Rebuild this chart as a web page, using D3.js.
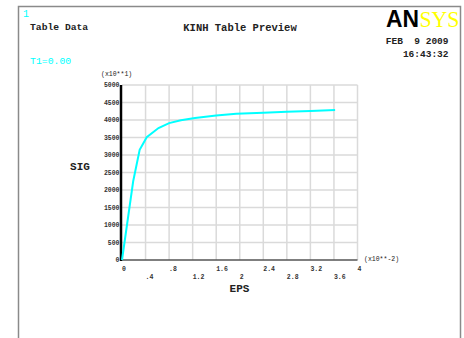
<!DOCTYPE html>
<html>
<head>
<meta charset="utf-8">
<script src="https://cdn.jsdelivr.net/npm/d3@7"></script>
<style>
  body { margin: 0; background: #fff; }
  text { white-space: pre; }
</style>
</head>
<body>
<div class="result"></div>
<script>
// Table values (x10**-2 for EPS, x10**1 for SIG)
const epsData = [0, 0.19, 0.30, 0.42, 0.62, 0.80, 1.00, 1.24, 1.60, 1.94, 2.40, 2.80, 3.20, 3.62];
const sigData = [0, 2250, 3150, 3510, 3770, 3910, 3990, 4060, 4130, 4180, 4210, 4235, 4255, 4285];
const xTicks = [0, 0.4, 0.8, 1.2, 1.6, 2, 2.4, 2.8, 3.2, 3.6, 4];
const xTickLabels = ['0', '.4', '.8', '1.2', '1.6', '2', '2.4', '2.8', '3.2', '3.6', '4'];
const yTicks = [0, 500, 1000, 1500, 2000, 2500, 3000, 3500, 4000, 4500, 5000];

const w = 464;
const h = 338;
const mono = 'Liberation Mono, Courier New, monospace';

const svg = d3.select('.result')
  .append('svg')
  .attr('width', w)
  .attr('height', h);

// Window frame
svg.append('path')
  .attr('d', 'M18.5,340 V6.5 H460.5 V340')
  .attr('fill', 'none')
  .attr('stroke', '#8a8a8a')
  .attr('stroke-width', 1.5);

// Scales
const x = d3.scaleLinear().domain([0, 4]).range([122, 357.5]);
const y = d3.scaleLinear().domain([0, 5000]).range([260, 85]);

// Grid
svg.append('g')
  .selectAll('line')
  .data(xTicks.slice(1))
  .enter()
  .append('line')
  .attr('x1', d => x(d)).attr('x2', d => x(d))
  .attr('y1', y(0)).attr('y2', y(5000))
  .attr('stroke', '#dadada')
  .attr('stroke-width', 1.5);

svg.append('g')
  .selectAll('line')
  .data(yTicks.slice(1))
  .enter()
  .append('line')
  .attr('x1', x(0)).attr('x2', x(4))
  .attr('y1', d => y(d)).attr('y2', d => y(d))
  .attr('stroke', '#dadada')
  .attr('stroke-width', 1.5);

// Axes lines
svg.append('line')
  .attr('x1', x(0)).attr('x2', x(4))
  .attr('y1', y(0)).attr('y2', y(0))
  .attr('stroke', '#555')
  .attr('stroke-width', 1.5);

svg.append('line')
  .attr('x1', x(0) - 1).attr('x2', x(0) - 1)
  .attr('y1', y(0) + 1).attr('y2', y(5000))
  .attr('stroke', '#000')
  .attr('stroke-width', 2.5);

// Y tick labels
svg.append('g')
  .selectAll('text')
  .data(yTicks)
  .enter()
  .append('text')
  .attr('x', 119.5)
  .attr('y', d => y(d) + 2)
  .attr('text-anchor', 'end')
  .attr('font-family', mono)
  .attr('font-size', 6.5)
  .attr('font-weight', 'bold')
  .attr('fill', '#333')
  .text(d => d);

// X tick labels, alternating rows
svg.append('g')
  .selectAll('text')
  .data(xTicks)
  .enter()
  .append('text')
  .attr('x', d => x(d))
  .attr('y', (d, i) => i % 2 === 0 ? 271 : 279)
  .attr('font-family', mono)
  .attr('font-size', 6.5)
  .attr('font-weight', 'bold')
  .attr('fill', '#333')
  .text((d, i) => xTickLabels[i]);

// Multipliers
svg.append('text')
  .attr('x', 101).attr('y', 76)
  .attr('font-family', mono).attr('font-size', 6.5)
  .attr('fill', '#222')
  .text('(x10**1)');

svg.append('text')
  .attr('x', 364).attr('y', 261)
  .attr('font-family', mono).attr('font-size', 6.5)
  .attr('fill', '#222')
  .text('(x10**-2)');

// Axis titles
svg.append('text')
  .attr('x', 80).attr('y', 170)
  .attr('text-anchor', 'middle')
  .attr('font-family', mono).attr('font-size', 11).attr('font-weight', 'bold')
  .attr('fill', '#222')
  .text('SIG');

svg.append('text')
  .attr('x', 239.5).attr('y', 291.5)
  .attr('text-anchor', 'middle')
  .attr('font-family', mono).attr('font-size', 11).attr('font-weight', 'bold')
  .attr('fill', '#222')
  .text('EPS');

// Curve
const line = d3.line()
  .x(d => x(d[0]))
  .y(d => y(d[1]));

svg.append('path')
  .datum(epsData.map((e, i) => [e, sigData[i]]))
  .attr('d', line)
  .attr('fill', 'none')
  .attr('stroke', '#00ffff')
  .attr('stroke-width', 2);

// Header texts
svg.append('text')
  .attr('x', 23).attr('y', 17)
  .attr('font-family', mono).attr('font-size', 10)
  .attr('fill', '#00ffff')
  .text('1');

svg.append('text')
  .attr('x', 30).attr('y', 30)
  .attr('font-family', mono).attr('font-size', 9.7).attr('font-weight', 'bold')
  .attr('fill', '#222')
  .text('Table Data');

svg.append('text')
  .attr('x', 240).attr('y', 30.5)
  .attr('text-anchor', 'middle')
  .attr('font-family', mono).attr('font-size', 10.5).attr('font-weight', 'bold')
  .attr('fill', '#222')
  .text('KINH Table Preview');

svg.append('text')
  .attr('x', 30).attr('y', 63.5)
  .attr('font-family', mono).attr('font-size', 9.8)
  .attr('fill', '#00ffff')
  .text('T1=0.00');

svg.append('text')
  .attr('x', 448.5).attr('y', 43.5)
  .attr('text-anchor', 'end')
  .attr('font-family', mono).attr('font-size', 9.5).attr('font-weight', 'bold')
  .attr('fill', '#222')
  .text('FEB  9 2009');

svg.append('text')
  .attr('x', 448.5).attr('y', 57)
  .attr('text-anchor', 'end')
  .attr('font-family', mono).attr('font-size', 9.5).attr('font-weight', 'bold')
  .attr('fill', '#222')
  .text('16:43:32');

// Logo
svg.append('text')
  .attr('x', 386).attr('y', 27)
  .attr('font-family', 'Liberation Sans, Arial, sans-serif')
  .attr('font-size', 23).attr('font-weight', 'bold')
  .attr('textLength', 33).attr('lengthAdjust', 'spacingAndGlyphs')
  .attr('fill', '#000')
  .text('AN');

svg.append('text')
  .attr('x', 419.5).attr('y', 27)
  .attr('font-family', 'Liberation Serif, Times New Roman, serif')
  .attr('font-size', 23)
  .attr('textLength', 40).attr('lengthAdjust', 'spacingAndGlyphs')
  .attr('fill', '#ffff00')
  .text('SYS');
</script>
</body>
</html>
